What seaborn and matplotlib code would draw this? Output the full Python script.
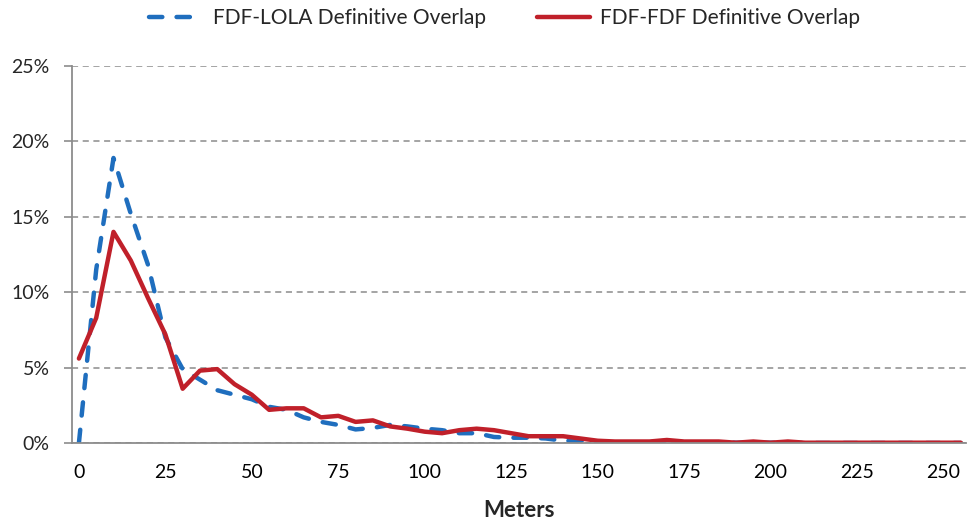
import numpy as np
import pandas as pd
import matplotlib
matplotlib.use("Agg")
import matplotlib.pyplot as plt
import seaborn as sns
from matplotlib.ticker import PercentFormatter, FixedLocator

# distance bins (meters) and share of points in each bin (%)
meters = list(range(0, 256, 5))
lola = [0.0, 11.5, 18.9, 15.2, 11.8, 7.0, 4.9, 4.2, 3.5, 3.2,
        2.9, 2.4, 2.2, 1.7, 1.4, 1.2, 0.9, 1.0, 1.2, 1.1,
        0.95, 0.85, 0.65, 0.65, 0.4, 0.35, 0.35, 0.3, 0.15, 0.15,
        0.1, 0.05, 0.02, 0.05, 0.15, 0.05, 0.05, 0.05, 0.02, 0.02,
        0.02, 0.02, 0.0, 0.0, 0.0, 0.0, 0.0, 0.0, 0.0, 0.0,
        0.0, 0.0]
fdf = [5.6, 8.3, 14.0, 12.1, 9.6, 7.2, 3.6, 4.8, 4.9, 3.9,
       3.2, 2.2, 2.3, 2.3, 1.7, 1.8, 1.4, 1.5, 1.1, 0.95,
       0.75, 0.65, 0.85, 0.95, 0.85, 0.65, 0.45, 0.45, 0.45, 0.3,
       0.15, 0.1, 0.1, 0.1, 0.2, 0.1, 0.1, 0.1, 0.02, 0.1,
       0.02, 0.1, 0.02, 0.02, 0.02, 0.02, 0.02, 0.02, 0.02, 0.02,
       0.02, 0.02]
x_labels = list(range(0, 251, 25))

sns.set_theme(style="white")
plt.rcParams['font.family'] = ['Lato', 'DejaVu Sans']

blue = "#1F6EBE"
red = "#C0202A"
gray = "#8C8C8C"

fig = plt.figure(figsize=(9.67, 5.21), dpi=100)
ax = fig.add_axes([72/967, 78/521, 894/967, 377/521])

sns.lineplot(x=meters, y=lola, ax=ax, color=blue, lw=3.2,
             label="FDF-LOLA Definitive Overlap")
sns.lineplot(x=meters, y=fdf, ax=ax, color=red, lw=3.2,
             label="FDF-FDF Definitive Overlap")
ax.lines[0].set_dashes([3.0, 3.2])
ax.lines[0].set_dash_capstyle('round')

ax.set_xlim(-2.0, 256.5)
ax.set_ylim(0, 25)
ax.yaxis.set_major_locator(FixedLocator([0, 5, 10, 15, 20, 25]))
ax.yaxis.set_major_formatter(PercentFormatter(xmax=100, decimals=0))
ax.set_xticks(x_labels)
ax.set_xticks([v - 2.0 for v in x_labels], minor=True)
ax.tick_params(axis='x', which='major', length=0, labelsize=14, pad=15, colors='black')
ax.tick_params(axis='x', which='minor', length=6, width=1.2, color=gray, direction='out')
ax.tick_params(axis='y', which='major', length=6, width=1.2, color=gray, labelsize=14,
               pad=10, direction='out', left=True)

ax.grid(axis='y', color=gray, linestyle=(0, (4, 3)), lw=1.1)
ax.set_axisbelow(True)
for side in ['top', 'right']:
    ax.spines[side].set_visible(False)
for side in ['left', 'bottom']:
    ax.spines[side].set_color(gray)
    ax.spines[side].set_linewidth(1.3)

ax.set_xlabel("Meters", fontsize=16, fontweight='bold', labelpad=14)
ax.set_ylabel("")

leg = ax.legend(loc='center', bbox_to_anchor=(0.484, 1.127), ncol=2, frameon=False,
                fontsize=15, handlelength=2.55, columnspacing=2.45, handletextpad=0.5)
leg.get_lines()[0].set_dash_capstyle('round')

fig.savefig("out.png", dpi=100)
